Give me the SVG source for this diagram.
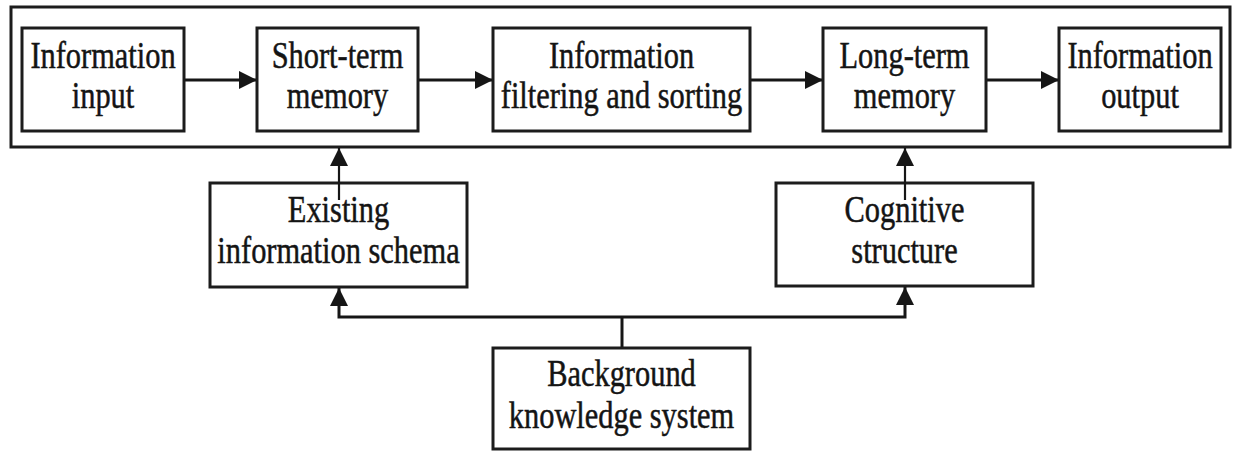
<svg xmlns="http://www.w3.org/2000/svg" width="1233" height="451" viewBox="0 0 1233 451">
  <style>
    .box { fill: #ffffff; stroke: #1c1c1c; stroke-width: 3; }
    .frame { fill: none; stroke: #1c1c1c; stroke-width: 3; }
    .lbl { font-family: "Liberation Serif", "Times New Roman", serif; font-size: 38px; fill: #141414; stroke: #141414; stroke-width: 0.5; text-anchor: middle; }
    .flow { fill: none; stroke: #161616; stroke-width: 3; }
    .feed { fill: none; stroke: #161616; stroke-width: 2.2; }
  </style>
  <defs>
    <marker id="head" markerUnits="userSpaceOnUse" markerWidth="18" markerHeight="18" viewBox="0 0 18 18" refX="18" refY="9" orient="auto">
      <path d="M0,0 L18,9 L0,18 Z" fill="#161616"/>
    </marker>
  </defs>

  <rect width="1233" height="451" fill="#ffffff"/>

  <!-- enclosing frame of the processing chain -->
  <rect class="frame" x="11" y="7" width="1219" height="140"/>

  <g id="connectors">
    <line class="flow" x1="184" y1="80" x2="257" y2="80" marker-end="url(#head)"/>
    <line class="flow" x1="418" y1="80" x2="493" y2="80" marker-end="url(#head)"/>
    <line class="flow" x1="750" y1="80" x2="823" y2="80" marker-end="url(#head)"/>
    <line class="flow" x1="986" y1="80" x2="1059" y2="80" marker-end="url(#head)"/>
    <!-- background knowledge feeding both support boxes -->
    <line class="flow" x1="622" y1="348" x2="622" y2="317"/>
    <polyline class="flow" points="622,317 339,317 339,288" marker-end="url(#head)"/>
    <polyline class="flow" points="622,317 905,317 905,287" marker-end="url(#head)"/>
  </g>

  <g id="n-input">
    <rect class="box" x="22" y="28" width="162" height="103"/>
    <text class="lbl" transform="matrix(0.8,0,0,1,103,0)" x="0" y="68">Information</text>
    <text class="lbl" transform="matrix(0.8,0,0,1,103,0)" x="0" y="108">input</text>
  </g>

  <g id="n-short">
    <rect class="box" x="257" y="28" width="161" height="103"/>
    <text class="lbl" transform="matrix(0.8,0,0,1,337.5,0)" x="0" y="68">Short-term</text>
    <text class="lbl" transform="matrix(0.8,0,0,1,337.5,0)" x="0" y="108">memory</text>
  </g>

  <g id="n-filter">
    <rect class="box" x="493" y="28" width="257" height="103"/>
    <text class="lbl" transform="matrix(0.8,0,0,1,621.5,0)" x="0" y="68">Information</text>
    <text class="lbl" transform="matrix(0.8,0,0,1,621.5,0)" x="0" y="108">filtering and sorting</text>
  </g>

  <g id="n-long">
    <rect class="box" x="823" y="28" width="163" height="103"/>
    <text class="lbl" transform="matrix(0.8,0,0,1,904.5,0)" x="0" y="68">Long-term</text>
    <text class="lbl" transform="matrix(0.8,0,0,1,904.5,0)" x="0" y="108">memory</text>
  </g>

  <g id="n-output">
    <rect class="box" x="1059" y="28" width="162" height="103"/>
    <text class="lbl" transform="matrix(0.8,0,0,1,1140,0)" x="0" y="68">Information</text>
    <text class="lbl" transform="matrix(0.8,0,0,1,1140,0)" x="0" y="108">output</text>
  </g>

  <g id="n-schema">
    <rect class="box" x="210" y="183" width="257" height="104"/>
    <text class="lbl" transform="matrix(0.8,0,0,1,338.5,0)" x="0" y="222">Existing</text>
    <text class="lbl" transform="matrix(0.8,0,0,1,338.5,0)" x="0" y="263">information schema</text>
  </g>

  <g id="n-cognitive">
    <rect class="box" x="776" y="183" width="257" height="103"/>
    <text class="lbl" transform="matrix(0.8,0,0,1,904.5,0)" x="0" y="222">Cognitive</text>
    <text class="lbl" transform="matrix(0.8,0,0,1,904.5,0)" x="0" y="263">structure</text>
  </g>

  <g id="n-background">
    <rect class="box" x="493" y="348" width="257" height="101"/>
    <text class="lbl" transform="matrix(0.8,0,0,1,621.5,0)" x="0" y="386">Background</text>
    <text class="lbl" transform="matrix(0.8,0,0,1,621.5,0)" x="0" y="428">knowledge system</text>
  </g>

  <!-- upward links into the frame, drawn over the support boxes -->
  <g id="connectors-up">
    <line class="feed" x1="339" y1="200" x2="339" y2="148" marker-end="url(#head)"/>
    <line class="feed" x1="905" y1="200" x2="905" y2="148" marker-end="url(#head)"/>
  </g>
</svg>
